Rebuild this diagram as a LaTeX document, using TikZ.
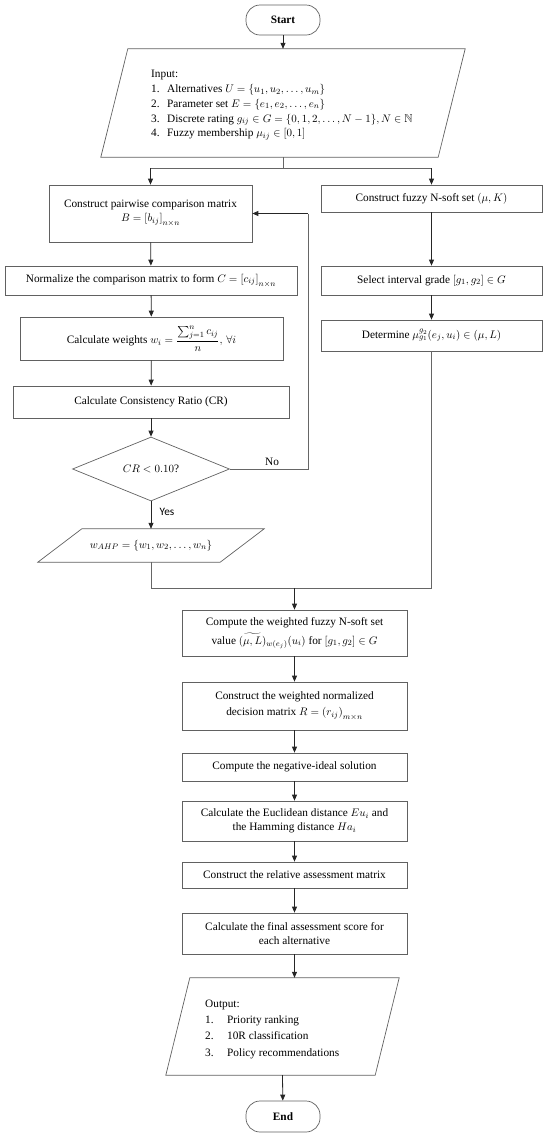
\documentclass[tikz,border=0pt]{standalone}
\usepackage{amsmath,amssymb}
\usepackage{fontspec}
\setmainfont{Liberation Serif}
\newfontfamily\yesfont{Carlito}
\usetikzlibrary{shapes.geometric,arrows.meta,calc}
\newcommand\fs{\fontsize{11.3}{14}\selectfont}
\newcommand\parashape[2]{\draw[boxline] ($(#1.north west)+(#2,0)$) -- ($(#1.north east)+(#2,0)$) -- ($(#1.south east)+(-#2,0)$) -- ($(#1.south west)+(-#2,0)$) -- cycle;}
\tikzset{
  boxline/.style={draw=black!62, line width=0.7pt},
  box/.style={boxline, rectangle, align=center, inner sep=1pt, font=\fs},
  term/.style={box, rounded corners=14pt, minimum width=74pt},
  inv/.style={rectangle, inner sep=0pt},
  arr/.style={-{Triangle[length=6pt,width=5pt]}, line width=0.8pt, draw=black!85},
  ln/.style={line width=0.7pt, draw=black!60},
  lbl/.style={inner sep=0pt, font=\fs}
}
\begin{document}
\begin{tikzpicture}[x=1pt,y=-1pt]
\useasboundingbox (0,0) rectangle (550,1136);
% terminals
\node[term, minimum height=30pt] (start) at (283,20) {\textbf{Start}};
\node[term, minimum height=31pt] (end) at (283,1116.5) {\textbf{End}};
% input
\node[inv, minimum width=337pt, minimum height=108pt] (in) at (283,103) {};
\parashape{in}{13.5}
\node[lbl, anchor=north west, align=left, font=\fontsize{11.3}{14.8}\selectfont] (intext) at (151,70) {Input:\\
\makebox[16pt][l]{1.}Alternatives $U=\{u_1,u_2,\dots,u_m\}$\\
\makebox[16pt][l]{2.}Parameter set $E=\{e_1,e_2,\dots,e_n\}$\\
\makebox[16pt][l]{3.}Discrete rating $g_{ij}\in G=\{0,1,2,\dots,N-1\},N\in\mathbb{N}$\\
\makebox[16pt][l]{4.}Fuzzy membership $\mu_{ij}\in[0,1]$};
% left column
\node[box, minimum width=203pt, minimum height=57pt] (b1) at (150.5,213.5) {Construct pairwise comparison matrix\\ $B=\left[b_{ij}\right]_{n\times n}$};
\node[box, minimum width=292pt, minimum height=29pt] (b2) at (151,280.5) {Normalize the comparison matrix to form $C=\left[c_{ij}\right]_{n\times n}$};
\node[box, minimum width=263pt, minimum height=43pt] (b3) at (151.5,338.5) {Calculate weights $w_i=\dfrac{\sum_{j=1}^{n}c_{ij}}{n},\,\forall i$};
\node[box, minimum width=276pt, minimum height=32pt] (b4) at (151,402) {Calculate Consistency Ratio (CR)};
\node[boxline, diamond, minimum width=157pt, minimum height=58pt, inner sep=0pt, font=\fs] (dia) at (151,469) {$CR<0.10$?};
\node[inv, minimum width=182pt, minimum height=33pt, font=\fs] (wahp) at (151,545.5) {$w_{AHP}=\{w_1,w_2,\dots,w_n\}$};
\parashape{wahp}{22}
% right column
\node[box, minimum width=221pt, minimum height=27pt] (f1) at (431.5,198.5) {Construct fuzzy N-soft set $(\mu,K)$};
\node[box, minimum width=221pt, minimum height=29pt] (f2) at (431.5,280.5) {Select interval grade $[g_1,g_2]\in G$};
\node[box, minimum width=221pt, minimum height=31pt] (f3) at (431.5,335.5) {Determine $\mu_{g_1}^{g_2}(e_j,u_i)\in(\mu,L)$};
% center column
\node[box, minimum width=225pt, minimum height=46pt] (w1) at (294.5,633) {Compute the weighted fuzzy N-soft set\\[5pt] value $(\widetilde{\mu,L})_{w(e_j)}(u_i)$ for $[g_1,g_2]\in G$};
\node[box, minimum width=225pt, minimum height=48pt] (w2) at (294.5,706) {Construct the weighted normalized\\[2pt] decision matrix $R=\left(r_{ij}\right)_{m\times n}$};
\node[box, minimum width=225pt, minimum height=28pt] (w3) at (294.5,767) {Compute the negative-ideal solution};
\node[box, minimum width=225pt, minimum height=40pt] (w4) at (294.5,821) {Calculate the Euclidean distance $Eu_i$ and\\ the Hamming distance $Ha_i$};
\node[box, minimum width=225pt, minimum height=26pt] (w5) at (294.5,875) {Construct the relative assessment matrix};
\node[box, minimum width=225pt, minimum height=41pt] (w6) at (294.5,933.5) {Calculate the final assessment score for\\ each alternative};
% output
\node[inv, minimum width=209pt, minimum height=97pt] (out) at (282.5,1026.5) {};
\parashape{out}{12}
\node[lbl, anchor=north west, align=left] (outtext) at (205,999.5) {Output:\\[2.3pt]
\makebox[22pt][l]{1.}Priority ranking\\[2.3pt]
\makebox[22pt][l]{2.}10R classification\\[2.3pt]
\makebox[22pt][l]{3.}Policy recommendations};
% labels
\node[lbl] (no) at (272,462) {No};
\node[lbl, font=\yesfont\fontsize{11.3}{13}\selectfont] (yes) at (167,512) {Yes};
% connectors
\coordinate (bj) at (283,168);
\coordinate (fb) at (308,469);
\coordinate (mj) at (294.5,588);
\draw[arr] (start) -- (in.north);
\draw[ln] (in.south) -- (bj);
\draw[ln] (b1.north |- bj) -- (f1.north |- bj);
\draw[arr] (b1.north |- bj) -- (b1.north);
\draw[arr] (f1.north |- bj) -- (f1.north);
\draw[arr] (b1) -- (b2);
\draw[arr] (b2) -- (b3);
\draw[arr] (b3) -- (b4);
\draw[arr] (b4) -- (dia);
\draw[arr] (dia) -- (wahp.north);
\draw[ln] (dia.east) -- (fb) -- (fb |- b1.east);
\draw[arr] (fb |- b1.east) -- (b1.east);
\draw[arr] (f1) -- (f2);
\draw[arr] (f2) -- (f3);
\draw[ln] (wahp.south) -- (wahp.south |- mj) -- (f3.south |- mj) -- (f3.south);
\draw[arr] (mj) -- (w1.north);
\draw[arr] (w1) -- (w2);
\draw[arr] (w2) -- (w3);
\draw[arr] (w3) -- (w4);
\draw[arr] (w4) -- (w5);
\draw[arr] (w5) -- (w6);
\draw[arr] (w6.south) -- (w6.south |- out.north);
\draw[arr] (out.south) -- (end);
\end{tikzpicture}
\end{document}
